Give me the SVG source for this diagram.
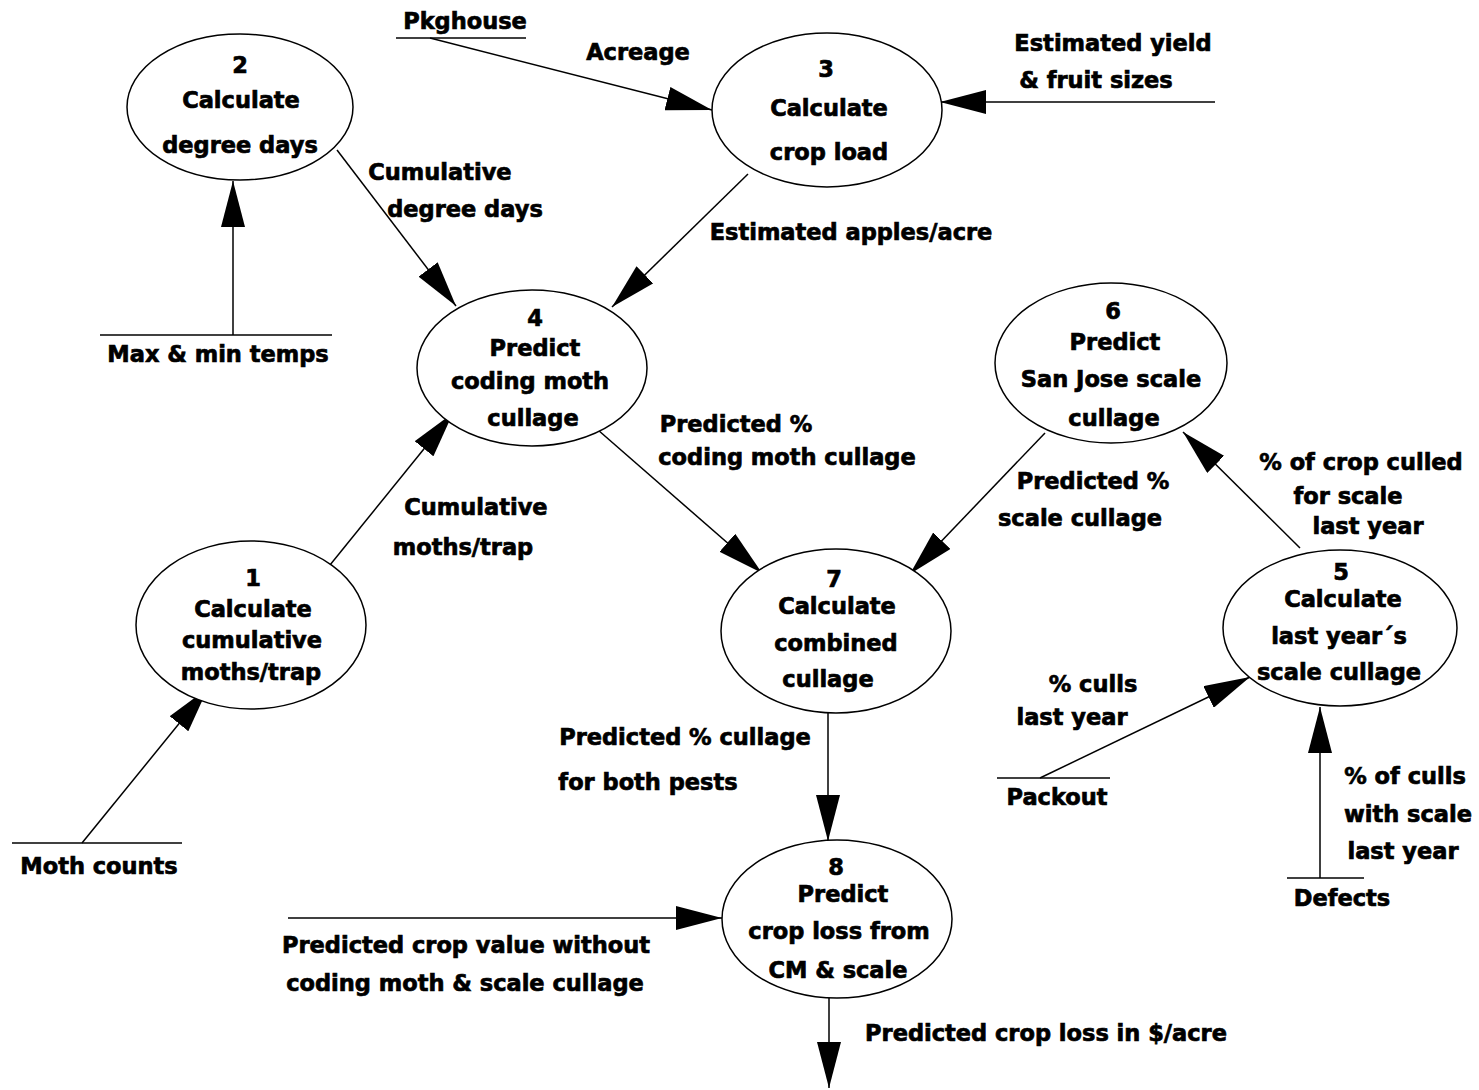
<svg xmlns="http://www.w3.org/2000/svg" width="1479" height="1090" viewBox="0 0 1479 1090">
  <style>
    text { font-family: "DejaVu Sans", "Liberation Sans", sans-serif; font-weight: bold; font-size: 22.5px; fill: #000; stroke: #000; stroke-width: 0.7; text-anchor: middle; }
    .proc { fill: #fff; stroke: #000; stroke-width: 1.5; }
    .flow { stroke: #000; stroke-width: 1.5; fill: none; marker-end: url(#arrow); }
    .store { stroke: #000; stroke-width: 1.5; fill: none; }
  </style>
  <defs>
    <marker id="arrow" viewBox="0 0 46 24" refX="46" refY="12" markerWidth="46" markerHeight="24" markerUnits="userSpaceOnUse" orient="auto">
      <path d="M0,0 L46,12 L0,24 Z" fill="#000"/>
    </marker>
  </defs>
  <rect width="1479" height="1090" fill="#fff"/>

  <!-- data flows -->
  <g id="connectors">
    <line class="flow" x1="233" y1="335" x2="233" y2="181"/>
    <line class="flow" x1="430" y1="38" x2="712" y2="110"/>
    <line class="flow" x1="1215" y1="102" x2="940" y2="102"/>
    <line class="flow" x1="337" y1="150" x2="456" y2="306"/>
    <line class="flow" x1="748" y1="174" x2="612" y2="307"/>
    <line class="flow" x1="330" y1="565" x2="453" y2="413"/>
    <line class="flow" x1="82" y1="843" x2="208" y2="688"/>
    <line class="flow" x1="598" y1="430" x2="762" y2="573"/>
    <line class="flow" x1="1045" y1="433" x2="910" y2="574"/>
    <line class="flow" x1="1300" y1="548" x2="1183" y2="432"/>
    <line class="flow" x1="1040" y1="778" x2="1250" y2="677"/>
    <line class="flow" x1="1320" y1="878" x2="1320" y2="707"/>
    <line class="flow" x1="828" y1="713" x2="828" y2="841"/>
    <line class="flow" x1="288" y1="918" x2="722" y2="918"/>
    <line class="flow" x1="829" y1="998" x2="829" y2="1088"/>
  </g>

  <!-- flow labels -->
  <g id="flow-labels">
    <text x="638" y="60">Acreage</text>
    <text x="1113" y="51">Estimated yield</text>
    <text x="1096" y="88">&amp; fruit sizes</text>
    <text x="440" y="180">Cumulative</text>
    <text x="465" y="217">degree days</text>
    <text x="851" y="240">Estimated apples/acre</text>
    <text x="476" y="515">Cumulative</text>
    <text x="463" y="555">moths/trap</text>
    <text x="736" y="432">Predicted %</text>
    <text x="787" y="465">coding moth cullage</text>
    <text x="1093" y="489">Predicted %</text>
    <text x="1080" y="526">scale cullage</text>
    <text x="1361" y="470">% of crop culled</text>
    <text x="1348" y="504">for scale</text>
    <text x="1368" y="534">last year</text>
    <text x="1093" y="692">% culls</text>
    <text x="1072" y="725">last year</text>
    <text x="1405" y="784">% of culls</text>
    <text x="1408" y="822">with scale</text>
    <text x="1403" y="859">last year</text>
    <text x="685" y="745">Predicted % cullage</text>
    <text x="648" y="790">for both pests</text>
    <text x="466" y="953">Predicted crop value without</text>
    <text x="465" y="991">coding moth &amp; scale cullage</text>
    <text x="1046" y="1041">Predicted crop loss in $/acre</text>
  </g>

  <!-- external sources -->
  <g id="src-pkghouse">
    <line class="store" x1="396" y1="38" x2="526" y2="38"/>
    <text x="465" y="29">Pkghouse</text>
  </g>
  <g id="src-temps">
    <line class="store" x1="100" y1="335" x2="332" y2="335"/>
    <text x="218" y="362">Max &amp; min temps</text>
  </g>
  <g id="src-moth-counts">
    <line class="store" x1="12" y1="843" x2="182" y2="843"/>
    <text x="99" y="874">Moth counts</text>
  </g>
  <g id="src-packout">
    <line class="store" x1="997" y1="778" x2="1110" y2="778"/>
    <text x="1057" y="805">Packout</text>
  </g>
  <g id="src-defects">
    <line class="store" x1="1287" y1="878" x2="1364" y2="878"/>
    <text x="1342" y="906">Defects</text>
  </g>

  <!-- processes -->
  <g id="p1">
    <ellipse class="proc" cx="251" cy="625" rx="115" ry="84"/>
    <text x="253" y="586">1</text>
    <text x="253" y="617">Calculate</text>
    <text x="252" y="648">cumulative</text>
    <text x="251" y="680">moths/trap</text>
  </g>
  <g id="p2">
    <ellipse class="proc" cx="240" cy="107" rx="113" ry="73"/>
    <text x="240" y="73">2</text>
    <text x="241" y="108">Calculate</text>
    <text x="240" y="153">degree days</text>
  </g>
  <g id="p3">
    <ellipse class="proc" cx="827" cy="110" rx="115" ry="77"/>
    <text x="826" y="77">3</text>
    <text x="829" y="116">Calculate</text>
    <text x="829" y="160">crop load</text>
  </g>
  <g id="p4">
    <ellipse class="proc" cx="532" cy="368" rx="115" ry="78"/>
    <text x="535" y="326">4</text>
    <text x="535" y="356">Predict</text>
    <text x="530" y="389">coding moth</text>
    <text x="533" y="426">cullage</text>
  </g>
  <g id="p5">
    <ellipse class="proc" cx="1340" cy="628" rx="117" ry="78"/>
    <text x="1341" y="580">5</text>
    <text x="1343" y="607">Calculate</text>
    <text x="1339" y="644">last year´s</text>
    <text x="1339" y="680">scale cullage</text>
  </g>
  <g id="p6">
    <ellipse class="proc" cx="1111" cy="363" rx="116" ry="80"/>
    <text x="1113" y="319">6</text>
    <text x="1115" y="350">Predict</text>
    <text x="1111" y="387">San Jose scale</text>
    <text x="1114" y="426">cullage</text>
  </g>
  <g id="p7">
    <ellipse class="proc" cx="836" cy="631" rx="115" ry="82"/>
    <text x="834" y="587">7</text>
    <text x="837" y="614">Calculate</text>
    <text x="836" y="651">combined</text>
    <text x="828" y="687">cullage</text>
  </g>
  <g id="p8">
    <ellipse class="proc" cx="837" cy="919" rx="115" ry="79"/>
    <text x="836" y="875">8</text>
    <text x="843" y="902">Predict</text>
    <text x="839" y="939">crop loss from</text>
    <text x="838" y="978">CM &amp; scale</text>
  </g>
</svg>
